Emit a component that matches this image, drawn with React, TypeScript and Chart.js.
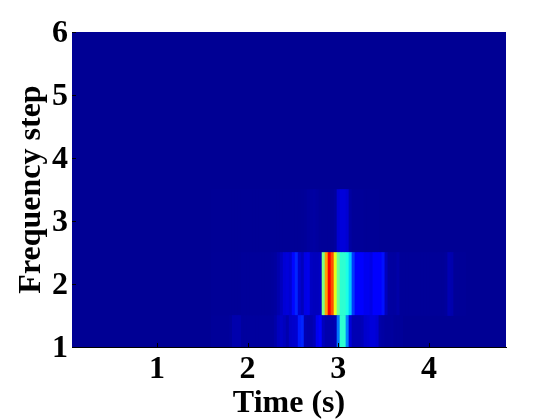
import React, { useEffect, useRef } from "react";
import { Chart, registerables } from "chart.js";

Chart.register(...registerables);

const FIRST_TIME = 1.6165;
const TIME_STEP = 0.033;
const xTickValues = [1, 2, 3, 4];
const yTickValues = [1, 2, 3, 4, 5, 6];

const row1Band = [1, 1.5];
const row2Band = [1.5, 2.5];
const row3Band = [2.5, 3.5];

const row1Values = [
  0.005, 0.005, 0.005, 0.005, 0.005, 0.005, 0.008, 0.025, 0.025, 0.025, 0.01, 0.01, 0.01, 0.01, 0.01, 0.01,
  0.01, 0.01, 0.01, 0.01, 0.01, 0.02, 0.04, 0.05, 0.04, 0.025, 0.05, 0.055, 0.06, 0.15, 0.16, 0.03,
  0.025, 0.025, 0.035, 0.09, 0.11, 0.04, 0.025, 0.025, 0.025, 0.03, 0.24, 0.42, 0.42, 0.25, 0.07, 0.03,
  0.03, 0.03, 0.035, 0.055, 0.06, 0.07, 0.07, 0.06, 0.02, 0.015, 0.01, 0.01, 0.01, 0.005, 0.005, 0.005,
];
const row2Values = [
  0.003, 0.003, 0.003, 0.003, 0.003, 0.003, 0.003, 0.003, 0.003, 0.003, 0.006, 0.006, 0.006, 0.006,
  0.006, 0.006, 0.006, 0.006, 0.006, 0.006, 0.008, 0.012, 0.025, 0.04, 0.065, 0.07, 0.06, 0.13, 0.16,
  0.06, 0.04, 0.08, 0.085, 0.045, 0.04, 0.04, 0.045, 0.5, 0.72, 0.88, 0.8, 0.6, 0.48, 0.42, 0.42,
  0.4, 0.32, 0.18, 0.12, 0.12, 0.12, 0.09, 0.09, 0.08, 0.11, 0.11, 0.11, 0.14, 0.04, 0.012, 0.012,
  0.012, 0.02, 0.004, 0.004, 0.004, 0.004, 0.004, 0.004, 0.004, 0.004, 0.004, 0.004, 0.004, 0.004,
  0.004, 0.004, 0.004, 0.008, 0.03, 0.025, 0.004, 0.004, 0.003, 0.003,
];
const row3Values = [
  0.002, 0.002, 0.002, 0.002, 0.002, 0.002, 0.002, 0.002, 0.002, 0.002, 0.002, 0.002, 0.002, 0.002,
  0.002, 0.002, 0.002, 0.002, 0.002, 0.002, 0.002, 0.002, 0.002, 0.002, 0.002, 0.002, 0.002, 0.002,
  0.002, 0.002, 0.003, 0.005, 0.01, 0.012, 0.014, 0.01, 0.005, 0.004, 0.004, 0.004, 0.004, 0.01,
  0.06, 0.07, 0.07, 0.06, 0.014, 0.004, 0.004, 0.004, 0.004, 0.002, 0.002, 0.002, 0.002, 0.002,
];

function jet(v: number): string {
  const clamp = (n: number) => Math.max(0, Math.min(1, n));
  const r = clamp(Math.min(4 * v - 1.5, -4 * v + 4.5));
  const g = clamp(Math.min(4 * v - 0.5, -4 * v + 3.5));
  const b = clamp(Math.min(4 * v + 0.58, -4 * v + 2.5));
  return `rgb(${Math.round(r * 255)},${Math.round(g * 255)},${Math.round(b * 255)})`;
}

function rowDataset(values: number[], band: number[]) {
  return {
    data: values.map((_, i) => ({ x: FIRST_TIME + i * TIME_STEP, y: band })),
    backgroundColor: values.map(jet),
    borderWidth: 0,
    barPercentage: 1,
    categoryPercentage: 1,
    grouped: false,
  };
}

const heatBackground = {
  id: "heatBackground",
  beforeDatasetsDraw(chart: any) {
    const { ctx, chartArea: a } = chart;
    ctx.save();
    ctx.fillStyle = jet(0);
    ctx.fillRect(a.left, a.top, a.right - a.left, a.bottom - a.top);
    ctx.restore();
  },
};

const inwardTicks = {
  id: "inwardTicks",
  afterDraw(chart: any) {
    const { ctx, chartArea: a, scales } = chart;
    ctx.save();
    ctx.strokeStyle = "#000";
    ctx.lineWidth = 1;
    ctx.beginPath();
    scales.x.ticks.forEach((t: any) => {
      const px = Math.round(scales.x.getPixelForValue(t.value)) + 0.5;
      ctx.moveTo(px, a.bottom);
      ctx.lineTo(px, a.bottom - 4);
    });
    scales.y.ticks.forEach((t: any) => {
      const py = Math.round(scales.y.getPixelForValue(t.value)) + 0.5;
      ctx.moveTo(a.left, py);
      ctx.lineTo(a.left + 4, py);
    });
    ctx.stroke();
    ctx.restore();
  },
};

const FONT = "'Liberation Serif', serif";

export default function App() {
  const ref = useRef<HTMLCanvasElement>(null);
  useEffect(() => {
    const chart = new Chart(ref.current!, {
      type: "bar",
      data: {
        datasets: [
          rowDataset(row1Values, row1Band),
          rowDataset(row2Values, row2Band),
          rowDataset(row3Values, row3Band),
        ],
      },
      plugins: [heatBackground, inwardTicks],
      options: {
        animation: false,
        responsive: false,
        layout: { padding: { top: 32, right: 54, left: 0, bottom: 0 } },
        plugins: { legend: { display: false }, tooltip: { enabled: false } },
        scales: {
          x: {
            type: "linear",
            offset: false,
            min: 0.063,
            max: 4.85,
            afterBuildTicks: (s: any) => {
              s.ticks = xTickValues.map((value) => ({ value }));
            },
            afterFit: (s: any) => {
              s.height = 73;
            },
            grid: { display: false, drawTicks: false },
            border: { display: true, color: "#000", width: 1 },
            ticks: {
              color: "#000",
              padding: 4,
              maxRotation: 0,
              autoSkip: false,
              font: { family: FONT, weight: "bold", size: 32 },
            },
            title: {
              display: true,
              text: "Time (s)",
              color: "#000",
              padding: { top: 0, bottom: -3 },
              font: { family: FONT, weight: "bold", size: 32 },
            },
          },
          y: {
            type: "linear",
            min: 1,
            max: 6,
            afterBuildTicks: (s: any) => {
              s.ticks = yTickValues.map((value) => ({ value }));
            },
            afterFit: (s: any) => {
              s.width = 72;
            },
            grid: { display: false, drawTicks: false },
            border: { display: true, color: "#00005a", width: 1 },
            ticks: {
              color: "#000",
              padding: 4,
              autoSkip: false,
              labelOffset: 2,
              font: { family: FONT, weight: "bold", size: 32 },
            },
            title: {
              display: true,
              text: "Frequency step",
              color: "#000",
              padding: { top: 13, bottom: 0 },
              font: { family: FONT, weight: "bold", size: 32 },
            },
          },
        },
      },
    } as any);
    return () => chart.destroy();
  }, []);
  return (
    <div style={{ position: "fixed", left: 0, top: 0, width: 560, height: 420, background: "#fff" }}>
      <canvas ref={ref} width={560} height={420} style={{ display: "block" }} />
    </div>
  );
}
